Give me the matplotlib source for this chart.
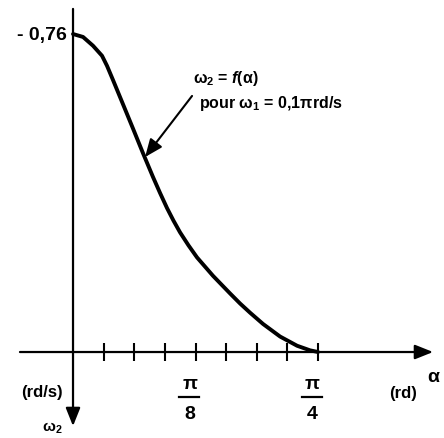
import numpy as np
import matplotlib
matplotlib.use("Agg")
import matplotlib.pyplot as plt

plt.rcParams['font.family'] = ['Liberation Sans', 'DejaVu Sans']
plt.rcParams['font.weight'] = 'bold'
plt.rcParams['mathtext.fontset'] = 'custom'
plt.rcParams['mathtext.rm'] = 'Liberation Sans:bold'
plt.rcParams['mathtext.it'] = 'Liberation Sans:italic:bold'
plt.rcParams['mathtext.bf'] = 'Liberation Sans:bold'
plt.rcParams['mathtext.default'] = 'rm'

# curve omega2 = f(alpha)
alpha = [0.0, 0.0321, 0.0641, 0.0930, 0.1090, 0.1282, 0.1603, 0.1923,
         0.2244, 0.2565, 0.2790, 0.3013, 0.3220, 0.3430, 0.3700, 0.3975,
         0.4488, 0.5033, 0.5353, 0.5674, 0.6091, 0.6636, 0.7181, 0.7597,
         np.pi / 4]
omega2 = [-0.760, -0.753, -0.732, -0.708, -0.684, -0.650, -0.592, -0.534,
          -0.475, -0.418, -0.380, -0.344, -0.314, -0.286, -0.255, -0.226,
          -0.182, -0.140, -0.116, -0.094, -0.067, -0.037, -0.015, -0.004,
          0.0]

tick_pos = [k * np.pi / 32 for k in range(1, 9)]
frac_pos = [np.pi / 8, np.pi / 4]
frac_den = ['8', '4']

fig = plt.figure(figsize=(4.44, 4.39), dpi=100)
ax = fig.add_axes([0, 0, 1, 1])
ax.set_xlim(-0.234, 1.189)
ax.set_ylim(0.2055, -0.8437)
ax.axis('off')

arrow = dict(arrowstyle='-|>,head_length=0.5,head_width=0.2', lw=1.6,
             color='black', mutation_scale=22, shrinkA=0, shrinkB=0)
# axes with arrows
ax.annotate('', xy=(1.154, 0), xytext=(-0.170, 0), arrowprops=arrow)
ax.annotate('', xy=(0, 0.177), xytext=(0, -0.82), arrowprops=arrow)
ax.plot(tick_pos, [0] * len(tick_pos), linestyle='none', marker='|',
        markersize=13, markeredgewidth=1.5, color='black')

# curve
ax.plot(alpha, omega2, color='black', lw=2.8, solid_capstyle='round',
        solid_joinstyle='round')

# annotation
ax.annotate('', xy=(0.231, -0.466), xytext=(0.3815, -0.612),
            arrowprops=dict(arrowstyle='-|>,head_length=0.6,head_width=0.25',
                            lw=1.5, color='black', mutation_scale=18,
                            shrinkA=0, shrinkB=0))
ax.text(0.385, -0.657, r'ω$_2$ = $\it{f}$(α)', fontsize=11.5, ha='left', va='center')
ax.text(0.404, -0.597, r'pour ω$_1$ = 0,1πrd/s', fontsize=11.5, ha='left', va='center')

# labels
ax.text(-0.0192, -0.76, '- 0,76', fontsize=14, ha='right', va='center')
ax.text(-0.0994, 0.094, '(rd/s)', fontsize=12, ha='center', va='center')
ax.text(-0.0673, 0.181, r'ω$_2$', fontsize=11, ha='center', va='center')
for p, d in zip(frac_pos, frac_den):
    ax.text(p - 0.019, 0.075, 'π', fontsize=14, ha='center', va='center')
    ax.plot([p - 0.052, p + 0.012], [0.1076, 0.1076], color='black', lw=1.6)
    ax.text(p - 0.019, 0.146, d, fontsize=14, ha='center', va='center')
ax.text(1.058, 0.097, '(rd)', fontsize=12, ha='center', va='center')
ax.text(1.154, 0.058, 'α', fontsize=14, ha='center', va='center')

fig.savefig('out.png', dpi=100)
